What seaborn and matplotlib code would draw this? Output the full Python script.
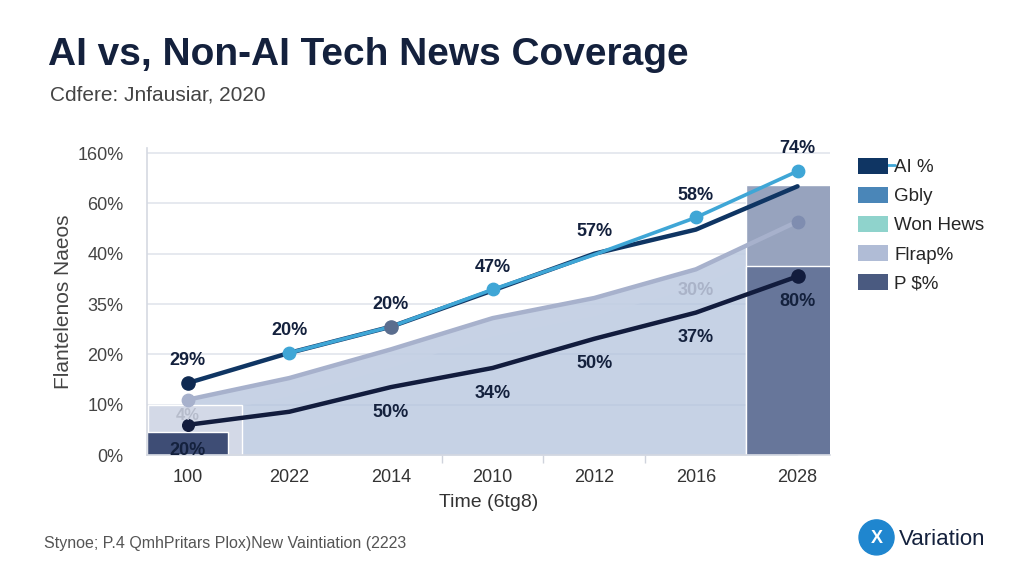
import numpy as np
import pandas as pd
import matplotlib
matplotlib.use("Agg")
import matplotlib.pyplot as plt
import seaborn as sns
from matplotlib.patches import Patch, Circle

# category positions and tick labels
x_labels = ["100", "2022", "2014", "2010", "2012", "2016", "2028"]
y_labels = ["0%", "10%", "20%", "35%", "40%", "60%", "160%"]
pos = list(range(len(x_labels)))

# series, in axis units (the y axis is evenly spaced tick positions)
ai_line = [1.43, 2.03, 2.55, 3.27, 4.0, 4.48, 5.34]
blue_line = [np.nan, 2.03, 2.55, 3.29, 3.98, 4.72, 5.64]
gray_line = [1.1, 1.53, 2.1, 2.72, 3.12, 3.69, 4.64]
low_line = [0.6, 0.86, 1.35, 1.73, 2.31, 2.83, 3.55]

# bars at the two ends
bar_pos = [0, 6]
bar_light = [1.0, 5.36]
bar_dark = [0.46, 3.76]

top_labels = ["29%", "20%", "20%", "47%", "57%", "58%", "74%"]
low_labels = ["20%", "", "50%", "34%", "50%", "37%", "80%"]

legend_names = ["AI %", "Gbly", "Won Hews", "Flrap%", "P $%"]
legend_colors = ["#0f3563", "#4a86b8", "#8fd3cc", "#b0bcd6", "#4a5a80"]

sns.set_theme(style="whitegrid")
plt.rcParams["font.family"] = ["Liberation Sans", "DejaVu Sans"]

fig = plt.figure(figsize=(10.24, 5.76), dpi=100)
fig.patch.set_facecolor("white")
ax = fig.add_axes([0.1436, 0.21, 0.667, 0.533])
ax.set_facecolor("white")

df = pd.DataFrame({"x": pos, "ai": ai_line, "blue": blue_line,
                   "gray": gray_line, "low": low_line})

# shaded area under the gray line
ax.fill_between(df["x"], 0, df["gray"], color="#b3c3dd", alpha=0.75, lw=0, zorder=1)
ax.fill_between(df["x"], df["gray"] - 0.35, df["gray"], color="#c9d3e6", alpha=0.6, lw=0, zorder=1)

# end bars
ax.bar([bar_pos[0] + 0.07, bar_pos[1] - 0.09], bar_light, width=[0.93, 0.83],
       color=["#d3d9e7", "#97a3be"], zorder=2)
ax.bar([bar_pos[0], bar_pos[1] - 0.09], bar_dark, width=[0.8, 0.83],
       color=["#3e4d75", "#67769a"], zorder=2)

sns.lineplot(data=df, x="x", y="gray", color="#a7b1cc", lw=3.2, ax=ax, zorder=3)
sns.lineplot(data=df, x="x", y="low", color="#121c3d", lw=3.2, ax=ax, zorder=4)
sns.lineplot(data=df, x="x", y="ai", color="#0f3563", lw=3.2, ax=ax, zorder=4)
sns.lineplot(data=df, x="x", y="blue", color="#3fa6d6", lw=2.6, ax=ax, zorder=5)

# markers
ax.scatter(pos[0:1], ai_line[0:1], s=90, color="#0f2a52", zorder=6)
ax.scatter([1, 3, 5, 6], [blue_line[i] for i in [1, 3, 5, 6]], s=80, color="#3fa6d6", zorder=6)
ax.scatter([2], [ai_line[2]], s=90, color="#5a6d8e", zorder=6)
ax.scatter([6], [gray_line[6]], s=80, color="#7f8db0", zorder=6)
ax.scatter([0], [gray_line[0]], s=80, color="#a7b1cc", zorder=6)
ax.scatter([6], [low_line[6]], s=90, color="#121c3d", zorder=6)
ax.scatter([0], [low_line[0]], s=70, color="#121c3d", zorder=6)

# value labels
for i, t in enumerate(top_labels):
    top = np.nanmax([ai_line[i], blue_line[i]])
    ax.annotate(t, (i, top), xytext=(0, 10), textcoords="offset points",
                ha="center", va="bottom", fontsize=13, fontweight="bold", color="#14213d", zorder=7)
for i, t in enumerate(low_labels):
    if t:
        ax.annotate(t, (i, low_line[i]), xytext=(0, -12), textcoords="offset points",
                    ha="center", va="top", fontsize=13, fontweight="bold", color="#14213d", zorder=7)
ax.annotate("30%", (5, gray_line[5]), xytext=(0, -9), textcoords="offset points",
            ha="center", va="top", fontsize=13, fontweight="bold", color="#aab3c8", zorder=7)
ax.annotate("4%", (0, gray_line[0]), xytext=(0, -6), textcoords="offset points",
            ha="center", va="top", fontsize=12, fontweight="bold", color="#b6bccb", zorder=7)

ax.set_xlim(-0.4, 6.32)
ax.set_ylim(0, 6.1)
ax.set_xticks(pos)
ax.set_xticklabels(x_labels, fontsize=13, color="#333333")
ax.set_yticks(range(len(y_labels)))
ax.set_yticklabels(y_labels, fontsize=13, color="#444444")
ax.set_xticks([2.5, 3.5, 4.5], minor=True)
ax.tick_params(axis="x", which="minor", length=6, color="#cfd3dc", bottom=True)
ax.tick_params(axis="x", which="major", length=0, pad=10)
ax.tick_params(axis="y", which="major", length=0, pad=17)
ax.grid(axis="y", color="#e2e5ec", lw=1.2)
ax.grid(axis="x", visible=False)
for s in ["top", "right"]:
    ax.spines[s].set_visible(False)
for s in ["left", "bottom"]:
    ax.spines[s].set_color("#d5d9e2")
    ax.spines[s].set_linewidth(1.2)
ax.set_xlabel("Time (6tg8)", fontsize=14, color="#333333", labelpad=6)
ax.set_ylabel("Flantelenos Naeos", fontsize=15, color="#444444")
ax.yaxis.set_label_coords(-0.108, 0.5)

# legend
handles = [Patch(facecolor=c, edgecolor="none") for c in legend_colors]
fig.legend(handles, legend_names, loc="upper left", bbox_to_anchor=(0.821, 0.755),
           frameon=False, fontsize=13.5, handlelength=1.6, handleheight=0.9,
           labelspacing=0.58, handletextpad=0.35)
fig.add_artist(plt.Line2D([0.865, 0.874], [0.714, 0.714], color="#3fa6d6", lw=2))

# titles and footer
fig.text(0.047, 0.905, "AI vs, Non-AI Tech News Coverage", fontsize=28, fontweight="bold",
         color="#14213d", va="center")
fig.text(0.049, 0.835, "Cdfere: Jnfausiar, 2020", fontsize=15, color="#444444", va="center")
fig.text(0.043, 0.057, "Stynoe; P.4 QmhPritars Plox)New Vaintiation (2223", fontsize=11.5,
         color="#555555", va="center")

# logo
lax = fig.add_axes([0.838, 0.035, 0.036, 0.064])
lax.set_xlim(-1, 1)
lax.set_ylim(-1, 1)
lax.set_aspect("equal")
lax.axis("off")
lax.add_patch(Circle((0, 0), 0.95, color="#1f86cf"))
lax.text(0, -0.05, "X", ha="center", va="center", fontsize=13, fontweight="bold", color="white")
fig.text(0.878, 0.064, "Variation", fontsize=16, color="#14213d", va="center")

fig.savefig("out.png", dpi=100)
